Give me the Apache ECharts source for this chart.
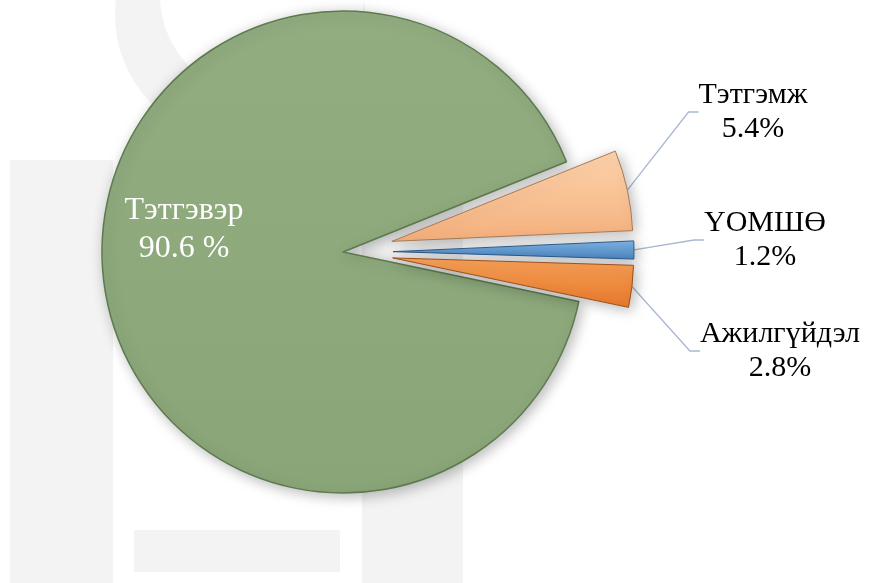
<!DOCTYPE html>
<html>
<head>
<meta charset="UTF-8">
<title>Тэтгэвэр</title>
<style>
html,body{margin:0;padding:0;background:#fff;}
#main{width:874px;height:583px;}
</style>
</head>
<body>
<div id="main"></div>
<script src="https://cdn.jsdelivr.net/npm/echarts@6/dist/echarts.min.js"></script>
<script>
// data
var names = ['Тэтгэмж', 'ҮОМШӨ', 'Ажилгүйдэл', 'Тэтгэвэр'];
var values = [5.4, 1.2, 2.8, 90.6];

// colours per slice: [light, dark, border]
var colors = [
  ['#fdd3ad', '#f5b07c', '#a87a55'],
  ['#7fb3e3', '#4a86c2', '#2c5a8a'],
  ['#f6a058', '#e7782a', '#9c4f18'],
  ['#92ad80', '#8aa578', '#5d7a4e']
];
// explode distance for each slice
var explode = [50, 50, 50, 0];
// where each label sits (centre of the text block)
var labelPos = [
  {x: 753, y: 112},
  {x: 765, y: 240},
  {x: 780, y: 351},
  {x: 184, y: 230}
];

var serif = "'Liberation Serif','DejaVu Serif',serif";
var cx = 343, cy = 252, R = 241, start = 22;

var total = 0;
for (var k = 0; k < values.length; k++) total += values[k];

var series = [];
var acc = 0;
for (var i = 0; i < names.length; i++) {
  // bisector angle of slice i (clockwise from startAngle)
  var mid = (start - (acc + values[i] / 2) / total * 360) * Math.PI / 180;
  acc += values[i];
  var small = i < 3;
  var data = [];
  for (var j = 0; j < names.length; j++) {
    var on = j === i;
    data.push({
      name: names[j],
      value: values[j],
      itemStyle: on ? {
        color: {
          type: 'linear', x: 0, y: 0, x2: 0, y2: 1,
          colorStops: [{offset: 0, color: colors[j][0]}, {offset: 1, color: colors[j][1]}]
        },
        borderColor: colors[j][2],
        borderWidth: small ? 1 : 1.5,
        shadowBlur: 14,
        shadowColor: 'rgba(0,0,0,0.28)',
        shadowOffsetX: 3,
        shadowOffsetY: 3
      } : {color: 'rgba(0,0,0,0)', borderWidth: 0},
      label: {show: on},
      labelLine: {show: on && small}
    });
  }
  series.push({
    type: 'pie',
    center: [cx + explode[i] * Math.cos(mid), cy - explode[i] * Math.sin(mid)],
    radius: R,
    startAngle: start,
    clockwise: true,
    silent: true,
    avoidLabelOverlap: false,
    z: small ? 3 : 2,
    label: {
      position: 'outside',
      fontFamily: serif,
      fontSize: small ? 30 : 32,
      lineHeight: small ? 34 : 38,
      color: small ? '#000000' : '#ffffff',
      align: 'center',
      formatter: function (p) {
        return p.name + '\n' + p.value + (p.dataIndex === 3 ? ' %' : '%');
      }
    },
    labelLine: {
      length: 20,
      length2: 10,
      lineStyle: {color: '#a9b8d0', width: 1.3}
    },
    labelLayout: function (params) {
      var p = labelPos[params.dataIndex];
      return {x: p.x, y: p.y, align: 'center', verticalAlign: 'middle'};
    },
    emphasis: {disabled: true},
    data: data
  });
}

var myChart = echarts.init(document.getElementById('main'));

myChart.setOption({
  animation: false,
  graphic: [
    // faint watermark in the background
    {type: 'circle', z: -10, shape: {cx: 240, cy: 15, r: 125}, style: {fill: '#f3f3f3'}},
    {type: 'circle', z: -10, shape: {cx: 262, cy: -5, r: 102}, style: {fill: '#ffffff'}},
    {type: 'rect', z: -10, shape: {x: 10, y: 160, width: 103, height: 423}, style: {fill: '#f3f3f3'}},
    {type: 'rect', z: -10, shape: {x: 362, y: 160, width: 101, height: 423}, style: {fill: '#f3f3f3'}},
    {type: 'rect', z: -10, shape: {x: 134, y: 530, width: 206, height: 42}, style: {fill: '#f3f3f3'}}
  ],
  series: series
});
</script>
</body>
</html>
